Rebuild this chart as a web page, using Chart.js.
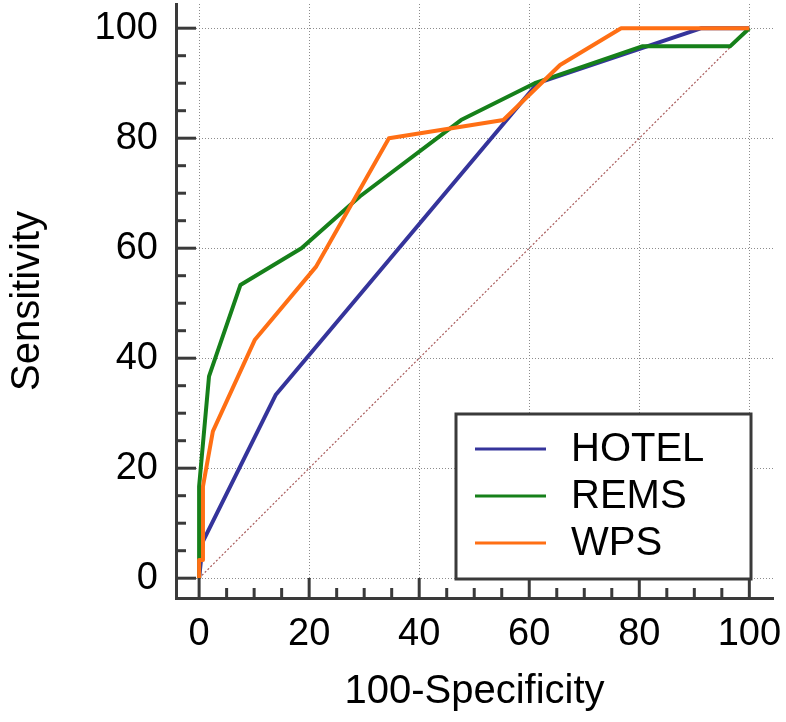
<!DOCTYPE html>
<html>
<head>
<meta charset="utf-8">
<script src="https://cdn.jsdelivr.net/npm/chart.js@4/dist/chart.umd.min.js"></script>
<style>
  html, body { margin: 0; padding: 0; background: #fff; }
  #wrap { width: 786px; height: 722px; }
</style>
</head>
<body>
<div id="wrap"><canvas id="roc" width="786" height="722"></canvas></div>
<script>
// ── Data (100-Specificity, Sensitivity) ──────────────────────────────────
const SERIES_NAMES = ['HOTEL', 'REMS', 'WPS'];
const SERIES_COLORS = ['#35349b', '#16801a', '#ff6f14'];

const hotelX = [0, 0.7, 13.9, 61.5, 91.3, 100];
const hotelY = [0, 6.7, 33.3, 90.0, 100, 100];

const remsX = [0, 0, 0, 1.8, 7.5, 18.6, 29.2, 47.6, 61.0, 80.5, 96.5, 100];
const remsY = [0, 3.3, 16.7, 36.7, 53.3, 60.0, 69.4, 83.3, 90.0, 96.7, 96.7, 100];

const wpsX = [0, 0, 0.7, 0.7, 2.5, 10.1, 21.3, 34.5, 55.3, 65.6, 76.7, 100];
const wpsY = [0, 3.3, 3.3, 16.7, 26.7, 43.3, 56.7, 80.0, 83.3, 93.3, 100, 100];

const diagX = [0, 100];
const diagY = [0, 100];

const TICK_VALUES = [0, 20, 40, 60, 80, 100];
const MINOR_STEP = 5;

const toPoints = (xs, ys) => xs.map((x, i) => ({ x, y: ys[i] }));

const FONT = "'Liberation Sans', Arial, sans-serif";

// Ticks pointing inward from the axis lines
const innerTicks = {
  id: 'innerTicks',
  afterDraw(chart) {
    const { ctx, chartArea, scales } = chart;
    ctx.save();
    ctx.strokeStyle = '#3a3a3a';
    ctx.lineWidth = 3;
    for (let v = 0; v <= 100; v += MINOR_STEP) {
      const len = v % 20 === 0 ? 20 : 10;
      const px = scales.x.getPixelForValue(v);
      ctx.beginPath();
      ctx.moveTo(px, chartArea.bottom);
      ctx.lineTo(px, chartArea.bottom - len);
      ctx.stroke();
      const py = scales.y.getPixelForValue(v);
      ctx.beginPath();
      ctx.moveTo(chartArea.left, py);
      ctx.lineTo(chartArea.left + len, py);
      ctx.stroke();
    }
    ctx.restore();
  },
};

// Boxed legend in the lower right of the plot
const boxLegend = {
  id: 'boxLegend',
  afterDraw(chart) {
    const { ctx, chartArea } = chart;
    const right = chartArea.right - 22;
    const bottom = chartArea.bottom - 19;
    const w = 295, h = 165;
    const left = right - w, top = bottom - h;
    ctx.save();
    ctx.fillStyle = '#fff';
    ctx.fillRect(left, top, w, h);
    ctx.strokeStyle = '#3a3a3a';
    ctx.lineWidth = 3;
    ctx.strokeRect(left, top, w, h);
    ctx.font = '40px ' + FONT;
    ctx.textBaseline = 'middle';
    ctx.textAlign = 'left';
    SERIES_NAMES.forEach((name, i) => {
      const y = top + 35 + i * 47;
      ctx.beginPath();
      ctx.moveTo(left + 19, y);
      ctx.lineTo(left + 90, y);
      ctx.strokeStyle = SERIES_COLORS[i];
      ctx.lineWidth = 3;
      ctx.stroke();
      ctx.fillStyle = '#000';
      ctx.fillText(name, left + 115, y + 1);
    });
    ctx.restore();
  },
};

const lineSet = (i, xs, ys, order) => ({
  label: SERIES_NAMES[i],
  data: toPoints(xs, ys),
  borderColor: SERIES_COLORS[i],
  borderWidth: 4,
  borderJoinStyle: 'round',
  pointRadius: 0,
  tension: 0,
  order,
});

const gridColor = ctx => (TICK_VALUES.includes(ctx.tick && ctx.tick.value) ? '#8c8c8c' : 'transparent');

// no auto padding for overflowing tick labels: the plot box is fixed
const noPad = s => { s.paddingTop = 0; s.paddingBottom = 0; s.paddingLeft = 0; s.paddingRight = 0; };

new Chart(document.getElementById('roc'), {
  type: 'line',
  plugins: [innerTicks, boxLegend],
  data: {
    datasets: [
      lineSet(0, hotelX, hotelY, 3),
      lineSet(1, remsX, remsY, 2),
      lineSet(2, wpsX, wpsY, 1),
      {
        label: 'diag',
        data: toPoints(diagX, diagY),
        borderColor: '#a85a5a',
        borderWidth: 1.2,
        borderDash: [2, 2],
        pointRadius: 0,
        order: 4,
      },
    ],
  },
  options: {
    responsive: false,
    animation: false,
    layout: { padding: { top: 4, right: 13, left: 0, bottom: 0 } },
    plugins: { legend: { display: false }, tooltip: { enabled: false } },
    scales: {
      x: {
        type: 'linear',
        min: -4.2,
        max: 104.3,
        afterBuildTicks: s => { s.ticks = TICK_VALUES.map(v => ({ value: v })); },
        afterFit: s => { s.height = 124; noPad(s); },
        grid: { color: gridColor, lineWidth: 1, drawTicks: false },
        border: { display: true, color: '#3a3a3a', width: 3, dash: [1, 2] },
        ticks: { color: '#000', font: { family: FONT, size: 38 }, padding: 14, maxRotation: 0, autoSkip: false },
        title: { display: true, text: '100-Specificity', color: '#000', font: { family: FONT, size: 40 }, padding: { top: 0, bottom: 6 } },
      },
      y: {
        type: 'linear',
        min: -3.6,
        max: 104.4,
        afterBuildTicks: s => { s.ticks = TICK_VALUES.map(v => ({ value: v })); },
        afterFit: s => { s.width = 176; noPad(s); },
        grid: { color: gridColor, lineWidth: 1, drawTicks: false },
        border: { display: true, color: '#3a3a3a', width: 3, dash: [1, 2] },
        ticks: { color: '#000', font: { family: FONT, size: 38 }, padding: 18, autoSkip: false },
        title: { display: true, text: 'Sensitivity', color: '#000', font: { family: FONT, size: 40 }, padding: { top: 4, bottom: 0 } },
      },
    },
  },
});
</script>
</body>
</html>
